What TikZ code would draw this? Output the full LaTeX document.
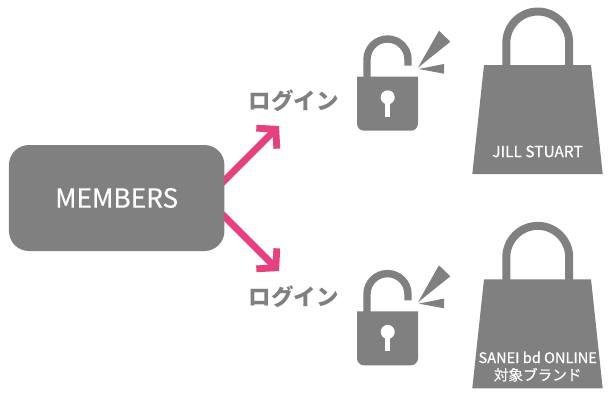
\documentclass[tikz,border=0pt]{standalone}
\usepackage{fontspec}
\setmainfont{Noto Sans CJK JP}
\newfontfamily\medfont[FakeBold=0.5]{Noto Sans CJK JP}
\usetikzlibrary{arrows.meta}
\definecolor{ggray}{HTML}{808080}
\definecolor{gpink}{HTML}{E6407E}
\tikzset{
  membox/.style={fill=ggray,draw=none,rounded corners=20pt,minimum width=215.5pt,minimum height=106pt,inner sep=0pt,text=white,font=\medfont\fontsize{26.3}{27}\selectfont},
  loginlabel/.style={text=ggray,inner sep=0pt,font=\bfseries\fontsize{22.5}{24}\selectfont},
  jilllabel/.style={text=white,inner sep=0pt,font=\medfont\fontsize{15.5}{17}\selectfont,align=center},
  baglabel/.style={text=white,inner sep=0pt,font=\medfont\fontsize{14.6}{17.3}\selectfont,align=center},
  pinkarrow/.style={draw=gpink,line width=6.8pt,miter limit=10,-{Straight Barb[length=13pt,width=29pt,line width=6.8pt]}},
  shackle/.style={draw=ggray,line width=7.4pt},
  baghandle/.style={draw=ggray,line width=8pt},
  grayfill/.style={fill=ggray,draw=none},
  holefill/.style={fill=white,draw=none},
}
\newcommand{\lockicon}[1]{%
  \begin{scope}[yshift=-#1pt]
    \draw[shackle] (367,78) -- (367,59.5) arc[start angle=180,end angle=360,radius=20.5] -- (408,65.7);
    \fill[grayfill,rounded corners=7pt] (357,76.7) [sharp corners] -- (418,76.7) [rounded corners=7pt] -- (418,130.7) -- (357,130.7) [sharp corners] -- cycle;
    \fill[holefill] (387.7,97.3) circle[radius=7];
    \fill[holefill] (385.3,97.3) rectangle (390,116.7);
    \fill[grayfill] (418,67.7) -- (439,30.7) -- (450.3,41.7) -- cycle;
    \fill[grayfill] (418.7,69) -- (444,64) -- (444,73.7) -- cycle;
  \end{scope}}
\newcommand{\bagicon}[1]{%
  \begin{scope}[yshift=-#1pt]
    \draw[baghandle] (506.3,66) -- (506.3,43) arc[start angle=180,end angle=360,radius=31.45] -- (569.2,66);
    \fill[grayfill] (484,65) -- (591,65) -- (602.7,174) -- (472.3,174) -- cycle;
  \end{scope}}
\begin{document}
\begin{tikzpicture}[x=1pt,y=-1pt]
\useasboundingbox (0,0) rectangle (616,402);
\coordinate (up0) at (222,183);
\coordinate (uptip) at (279,126);
\coordinate (dn0) at (222,214);
\coordinate (dntip) at (279,271);
\draw[pinkarrow] (up0) -- (uptip);
\draw[pinkarrow] (dn0) -- (dntip);
\node[membox] (members) at (116.7,198) {MEMBERS};
\node[loginlabel] (login1) at (293.5,100.7) {ログイン};
\node[loginlabel] (login2) at (293.5,296.7) {ログイン};
\lockicon{0}
\lockicon{234.6}
\bagicon{0}
\bagicon{214.3}
\node[jilllabel] (jill) at (537.5,151.5) {JILL STUART};
\node[baglabel] (sanei) at (537.7,366.5) {SANEI bd ONLINE\\対象ブランド};
\end{tikzpicture}
\end{document}
